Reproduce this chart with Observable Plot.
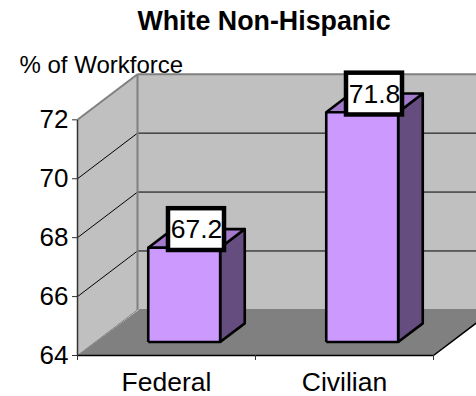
<!DOCTYPE html>
<html>
<head>
<meta charset="utf-8">
<script src="https://cdn.jsdelivr.net/npm/d3@7"></script>
<script src="https://cdn.jsdelivr.net/npm/@observablehq/plot@0.6"></script>
<style>
html,body{margin:0;padding:0;background:#fff;overflow:hidden}
#title{box-sizing:border-box;width:476px;height:46px;padding-left:52px;text-align:center;font:bold 26.8px/42px "Liberation Sans",Arial,sans-serif;color:#000;white-space:nowrap}
</style>
</head>
<body>
<div id="title">White Non-Hispanic</div>
<div id="chart"></div>
<script>
const yLabel = "% of Workforce";
const categories = ["Federal", "Civilian"];
const values = [67.2, 71.8];
const yTicks = [64, 66, 68, 70, 72];
const colors = {wall:"#c0c0c0", floor:"#808080", edge:"#808080", front:"#cc99ff", top:"#a37acc", side:"#664d80"};

// Oblique projection: one unit of depth moves by (DU, DV) in scale units.
const DU = 60 / 178, DV = 45.6 / 29.46;
const P = (u, v, z) => ({x: u + z * DU, y: v + z * DV});
const yMin = yTicks[0], yMax = yTicks[yTicks.length - 1], n = categories.length;
const poly = (pts, o) => Plot.line([...pts, pts[0]], {x:"x", y:"y", strokeLinejoin:"round", strokeLinecap:"butt", ...o});
const seg = (a, b, o) => Plot.line([a, b], {x:"x", y:"y", strokeLinecap:"butt", ...o});

const marks = [];
// walls and floor
marks.push(poly([P(0,yMin,1),P(n+1,yMin,1),P(n+1,yMax,1),P(0,yMax,1)], {fill:colors.wall, stroke:"none"}));
marks.push(poly([P(0,yMin,0),P(n,yMin,0),P(n+0.02*DU,yMin,1.02),P(n+1,yMin,1.02),P(0.02*DU,yMin,1.02)], {fill:colors.floor, stroke:"none"}));
marks.push(poly([P(0,yMin,0),P(0,yMin,1),P(0,yMax,1),P(0,yMax,0)], {fill:colors.wall, stroke:"none"}));
// gridlines
for (const t of yTicks.slice(1, -1)) {
  marks.push(seg(P(0,t,0), P(0,t,1), {stroke:"#000", strokeWidth:1}));
  marks.push(seg(P(0,t,1), P(n+1,t,1), {stroke:"#000", strokeWidth:1}));
}
// wall edges
marks.push(seg(P(0,yMin,1), P(0,yMax,1), {stroke:colors.edge, strokeWidth:2}));
marks.push(seg(P(0,yMax,1), P(n+1,yMax,1), {stroke:colors.edge, strokeWidth:2}));
marks.push(seg(P(0,yMax,0), P(0,yMax,1), {stroke:colors.edge, strokeWidth:2}));
marks.push(seg(P(0,yMin,0), P(0,yMin,1), {stroke:colors.edge, strokeWidth:1}));
// floor front edges and axis line
marks.push(seg(P(0,yMin,0), P(n,yMin,0), {stroke:"#000", strokeWidth:1.5}));
marks.push(seg(P(n,yMin,0), P(n,yMin,1), {stroke:"#000", strokeWidth:1.5}));
marks.push(seg(P(0,yMin,0), P(0,yMax,0), {stroke:"#333", strokeWidth:1.5}));

// bars
const barW = 0.404, z0 = 0.295, z1 = 0.705;
values.forEach((val, i) => {
  const a = i + 0.5 - barW / 2, b = i + 0.5 + barW / 2;
  const s = {stroke:"#000", strokeWidth:2.6};
  marks.push(poly([P(b,yMin,z0),P(b,yMin,z1),P(b,val,z1),P(b,val,z0)], {fill:colors.side, ...s}));
  marks.push(poly([P(a,val,z0),P(b,val,z0),P(b,val,z1),P(a,val,z1)], {fill:colors.top, ...s}));
  marks.push(poly([P(a,yMin,z0),P(b,yMin,z0),P(b,val,z0),P(a,val,z0)], {fill:colors.front, ...s}));
});
// value labels
const labels = values.map((val, i) => {
  const c = P(i + 0.5, val, 0.5);
  return {x: c.x, y: c.y + 0.3, text: String(val)};
});
marks.push(Plot.rect(labels, {x1:d=>d.x-28/178, x2:d=>d.x+28/178, y1:d=>d.y-20.9/29.46, y2:d=>d.y+20.9/29.46, fill:"#fff", stroke:"#000", strokeWidth:4.5}));
marks.push(Plot.text(labels, {x:"x", y:"y", text:"text", fontSize:26.5, fill:"#000"}));

// axes
marks.push(Plot.axisY({ticks:yTicks, tickSize:5, tickPadding:4, fontSize:26, label:null, tickFormat:d=>String(d), stroke:"#333"}));
marks.push(Plot.axisX({ticks:d3.range(n + 1), tickSize:5, tickFormat:()=>"", label:null, stroke:"#333"}));
marks.push(Plot.axisX({ticks:categories.map((_, i) => i + 0.5), tickSize:0, tickPadding:17, fontSize:26.5, label:null, tickFormat:d=>categories[d - 0.5]}));
marks.push(Plot.text([yLabel], {frameAnchor:"top-left", dx:-58, dy:19, fontSize:24, textAnchor:"start", lineAnchor:"middle", fill:"#000"}));

const svg = Plot.plot({
  width:476, height:350,
  marginLeft:77, marginRight:0, marginTop:0, marginBottom:41,
  x:{type:"linear", domain:[0, 399/178], range:[77, 476]},
  y:{type:"linear", domain:[64, 74], range:[309, 309 - 294.6]},
  style:{fontFamily:'"Liberation Sans", Arial, sans-serif', background:"transparent", color:"#000", overflow:"hidden"},
  marks
});
document.getElementById("chart").appendChild(svg);
</script>
</body>
</html>
